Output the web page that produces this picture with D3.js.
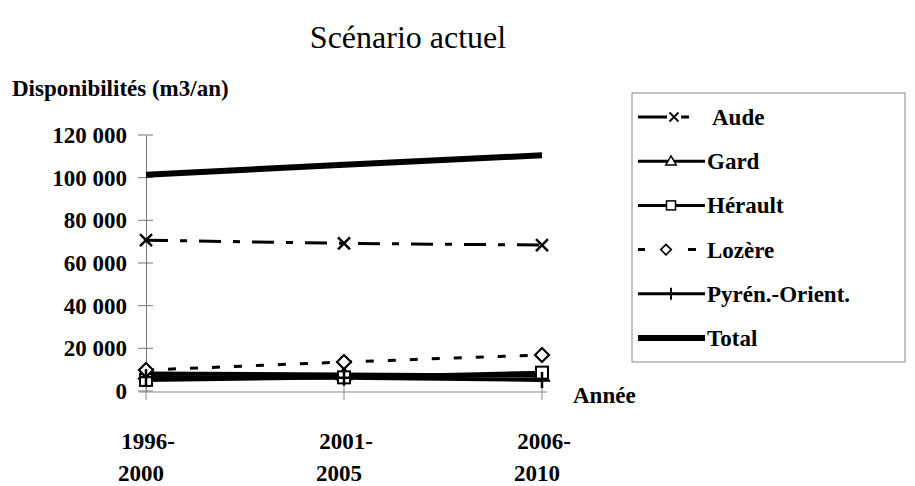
<!DOCTYPE html>
<html>
<head>
<meta charset="utf-8">
<script src="https://cdn.jsdelivr.net/npm/d3@7"></script>
</head>
<body style="margin:0;background:#fff">
<svg width="915" height="486"></svg>
<script>
// data
var periods = [['1996-', '2000'], ['2001-', '2005'], ['2006-', '2010']];
var aude = [70700, 69200, 68400];
var gard = [8200, 7700, 7200];
var herault = [5200, 6400, 8600];
var lozere = [9800, 13600, 16900];
var pyrenees = [6600, 6200, 5200];
var total = [101400, 106000, 110500];
var yTicks = [0, 20000, 40000, 60000, 80000, 100000, 120000];

var series = [
  {name: 'Aude', values: aude, width: 3, dash: '22,12,7,12', marker: 'x'},
  {name: 'Gard', values: gard, width: 4, dash: null, marker: 'tri'},
  {name: 'Hérault', values: herault, width: 4, dash: null, marker: 'sq'},
  {name: 'Lozère', values: lozere, width: 3, dash: '8,14', marker: 'dia'},
  {name: 'Pyrén.-Orient.', values: pyrenees, width: 4, dash: null, marker: 'plus'},
  {name: 'Total', values: total, width: 6, dash: null, marker: null}
];

var svg = d3.select('svg');

var serif = function(sel) {
  return sel.attr('font-family', 'Liberation Serif').attr('fill', '#000');
};
var bold = function(sel) {
  return sel.call(serif).attr('font-weight', 'bold').attr('font-size', 23);
};

var xScale = d3.scalePoint()
  .domain(d3.range(periods.length))
  .range([146, 542]);

var yScale = d3.scaleLinear()
  .domain([0, 120000])
  .range([391, 135]);

var fmt = function(v) { return d3.format(',')(v).replace(/,/g, ' '); };

// title
svg.append('text').call(serif)
  .attr('x', 408).attr('y', 48)
  .attr('text-anchor', 'middle')
  .attr('font-size', 32)
  .text('Scénario actuel');

svg.append('text').call(bold)
  .attr('x', 12).attr('y', 96)
  .text('Disponibilités (m3/an)');

// y axis
var yAxis = d3.axisLeft(yScale)
  .tickValues(yTicks)
  .tickSize(0)
  .tickFormat('');
svg.append('g').attr('transform', 'translate(146,0)').call(yAxis)
  .select('.domain').attr('stroke', '#777').attr('stroke-width', 1);

svg.append('g').selectAll('line')
  .data(yTicks)
  .enter().append('line')
  .attr('x1', 138).attr('x2', 153)
  .attr('y1', d => yScale(d)).attr('y2', d => yScale(d))
  .attr('stroke', '#777');

svg.append('g').selectAll('text')
  .data(yTicks)
  .enter().append('text').call(bold)
  .attr('x', 127)
  .attr('y', d => yScale(d) + 8)
  .attr('text-anchor', 'end')
  .text(fmt);

// x axis
svg.append('line')
  .attr('x1', 139).attr('x2', 547)
  .attr('y1', 392).attr('y2', 392)
  .attr('stroke', '#888');

svg.append('g').selectAll('line')
  .data(d3.range(periods.length))
  .enter().append('line')
  .attr('x1', d => xScale(d)).attr('x2', d => xScale(d))
  .attr('y1', 385).attr('y2', 400)
  .attr('stroke', '#888');

var xl = svg.append('g').selectAll('g')
  .data(periods)
  .enter().append('g')
  .attr('transform', (d, i) => 'translate(' + xScale(i) + ',0)');
xl.append('text').call(bold).attr('x', 2).attr('y', 449)
  .attr('text-anchor', 'middle').text(d => d[0]);
xl.append('text').call(bold).attr('x', -5).attr('y', 481)
  .attr('text-anchor', 'middle').text(d => d[1]);

svg.append('text').call(bold)
  .attr('x', 573).attr('y', 403)
  .text('Année');

// markers
var drawMarker = function(sel, type, x, y) {
  if (type === 'x') {
    sel.append('path').attr('d', 'M' + (x - 6) + ',' + (y - 6) + 'L' + (x + 6) + ',' + (y + 6) + 'M' + (x - 6) + ',' + (y + 6) + 'L' + (x + 6) + ',' + (y - 6))
      .attr('stroke', '#000').attr('stroke-width', 2.5).attr('fill', 'none');
  } else if (type === 'tri') {
    sel.append('path').attr('d', 'M' + x + ',' + (y - 7) + 'L' + (x + 7) + ',' + (y + 5) + 'L' + (x - 7) + ',' + (y + 5) + 'Z')
      .attr('stroke', '#000').attr('stroke-width', 2).attr('fill', '#fff');
  } else if (type === 'sq') {
    sel.append('rect').attr('x', x - 6).attr('y', y - 6).attr('width', 12).attr('height', 12)
      .attr('stroke', '#000').attr('stroke-width', 2).attr('fill', '#fff');
  } else if (type === 'dia') {
    sel.append('path').attr('d', 'M' + x + ',' + (y - 7) + 'L' + (x + 7) + ',' + y + 'L' + x + ',' + (y + 7) + 'L' + (x - 7) + ',' + y + 'Z')
      .attr('stroke', '#000').attr('stroke-width', 2.2).attr('fill', '#fff');
  } else if (type === 'plus') {
    sel.append('path').attr('d', 'M' + x + ',' + (y - 8) + 'L' + x + ',' + (y + 8) + 'M' + (x - 7) + ',' + y + 'L' + (x + 7) + ',' + y)
      .attr('stroke', '#000').attr('stroke-width', 2.5);
  }
};

var line = d3.line()
  .x((d, i) => xScale(i))
  .y(d => yScale(d));

var plot = svg.append('g');
series.forEach(function(s) {
  plot.append('path')
    .attr('d', line(s.values))
    .attr('fill', 'none')
    .attr('stroke', '#000')
    .attr('stroke-width', s.width)
    .attr('stroke-dasharray', s.dash);
});
series.forEach(function(s) {
  if (!s.marker) return;
  var mg = plot.append('g');
  s.values.forEach(function(v, i) {
    drawMarker(mg, s.marker, xScale(i), yScale(v));
  });
});

// legend
var legend = svg.append('g');
legend.append('rect')
  .attr('x', 632).attr('y', 93).attr('width', 273).attr('height', 269)
  .attr('fill', '#fff').attr('stroke', '#888').attr('stroke-width', 1);

var ly = d3.scalePoint()
  .domain(series.map(d => d.name))
  .range([117, 338]);

series.forEach(function(s) {
  var y = ly(s.name);
  var g = legend.append('g');
  var x1 = 638, x2 = 705;
  var dash = null;
  if (s.name === 'Aude') { x2 = 695; dash = '29,14,8,100'; }
  if (s.name === 'Lozère') { dash = '7,43,8,100'; }
  g.append('line')
    .attr('x1', x1).attr('x2', x2).attr('y1', y).attr('y2', y)
    .attr('stroke', '#000')
    .attr('stroke-width', s.name === 'Total' ? 6 : 3)
    .attr('stroke-dasharray', dash);
  if (s.marker) {
    var mx = s.name === 'Aude' ? 674 : (s.name === 'Lozère' ? 666 : 671);
    var mg = g.append('g').attr('transform', 'translate(' + mx + ',' + y + ') scale(0.75)');
    drawMarker(mg, s.marker, 0, 0);
  }
  g.append('text').call(bold)
    .attr('x', s.name === 'Aude' ? 712 : 707)
    .attr('y', y + 8)
    .text(s.name);
});
</script>
</body>
</html>
